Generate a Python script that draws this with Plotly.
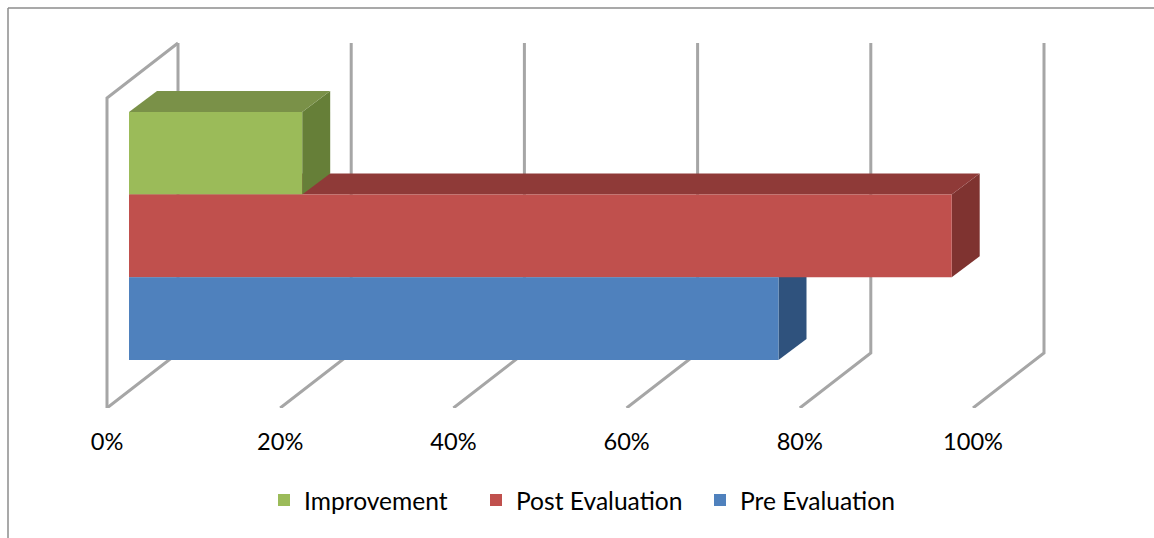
import plotly.graph_objects as go

# ---- data ----
categories = ["Pre Evaluation", "Post Evaluation", "Improvement"]
values = [75, 95, 20]
front_colors = ["#4F81BD", "#C0504D", "#9BBB59"]
top_colors = ["#3A6390", "#8F3A38", "#7A9148"]
side_colors = ["#2F527D", "#7F3330", "#667F38"]
ticks = [0, 20, 40, 60, 80, 100]

# ---- geometry (pixel scale of the chart) ----
W, H = 1154, 538
PLOT_H = 408
X0_PX = 107.0
PX_PER_PCT = 8.66
BAR_PX = 82.7
BAR_BOTTOM_PX = 360.0

x_range = [-X0_PX / PX_PER_PCT, (W - X0_PX) / PX_PER_PCT]
y_range = [-0.5 - (PLOT_H - BAR_BOTTOM_PX) / BAR_PX, -0.5 + BAR_BOTTOM_PX / BAR_PX]

dx = lambda px: px / PX_PER_PCT
dy = lambda px: px / BAR_PX

BASE = dx(22)            # bars stand 22 px in front of the wall's front corner
DEPTH_X, DEPTH_Y = dx(28), dy(21)
FLOOR_X, FLOOR_Y = dx(71), dy(55)
floor_y = y_range[0]
wall_top = floor_y + dy(310)

GRID = "#A6A6A6"
fig = go.Figure()

# walls and grid lines, on the base axes so everything else hides them
gx, gy = [], []
for t in ticks:
    gx += [t, t + FLOOR_X, t + FLOOR_X, None]
    gy += [floor_y, floor_y + FLOOR_Y, wall_top + FLOOR_Y, None]
gx += [0, 0, FLOOR_X]
gy += [floor_y, wall_top, wall_top + FLOOR_Y]
fig.add_trace(go.Scatter(x=gx, y=gy, mode="lines", showlegend=False, hoverinfo="skip",
                         line=dict(color=GRID, width=3)))

# depth faces of each bar
for i, v in enumerate(values):
    end = BASE + v
    lo, hi = i - 0.5, i + 0.5
    fig.add_trace(go.Scatter(
        x=[end, end + DEPTH_X, end + DEPTH_X, end, end],
        y=[lo, lo + DEPTH_Y, hi + DEPTH_Y, hi, lo],
        mode="lines", fill="toself", fillcolor=side_colors[i],
        line=dict(width=0), showlegend=False, hoverinfo="skip"))
    fig.add_trace(go.Scatter(
        x=[BASE, BASE + DEPTH_X, end + DEPTH_X, end, BASE],
        y=[hi, hi + DEPTH_Y, hi + DEPTH_Y, hi, hi],
        mode="lines", fill="toself", fillcolor=top_colors[i],
        line=dict(width=0), showlegend=False, hoverinfo="skip"))

# front faces on an overlaying pair of axes, drawn above the depth faces
for i in [2, 1, 0]:
    fig.add_trace(go.Bar(
        x=[values[i]], y=[i], base=[BASE], width=[1], orientation="h",
        name=categories[i], marker=dict(color=front_colors[i], line=dict(width=0)),
        xaxis="x2", yaxis="y2",
        legend={2: "legend", 1: "legend2", 0: "legend3"}[i]))

FONT = "Lato, 'Open Sans', sans-serif"
legend_base = dict(orientation="h", xanchor="left", yanchor="middle", y=-92 / PLOT_H,
                   bgcolor="rgba(0,0,0,0)", font=dict(family=FONT, size=24.6, color="#000000"),
                   itemclick=False, itemdoubleclick=False)

fig.update_layout(
    width=W, height=H, margin=dict(l=0, r=0, t=0, b=H - PLOT_H, pad=0),
    paper_bgcolor="white", plot_bgcolor="white", barmode="overlay",
    font=dict(family=FONT, size=23.6, color="#000000"),
    xaxis=dict(range=x_range, tickvals=ticks, ticktext=[f"{t}%" for t in ticks],
               showgrid=False, zeroline=False, showline=False,
               ticks="outside", ticklen=13, tickcolor="rgba(0,0,0,0)",
               tickfont=dict(family=FONT, size=23.6, color="#000000")),
    yaxis=dict(range=y_range, visible=False),
    xaxis2=dict(range=x_range, overlaying="x", visible=False, anchor="y2"),
    yaxis2=dict(range=y_range, overlaying="y", visible=False, anchor="x2"),
    legend=dict(legend_base, x=264 / W),
    legend2=dict(legend_base, x=476 / W),
    legend3=dict(legend_base, x=700 / W),
    shapes=[
        dict(type="line", xref="paper", yref="paper", x0=8 / W, x1=1, y0=(PLOT_H - 8) / PLOT_H, y1=(PLOT_H - 8) / PLOT_H,
             line=dict(color="#8C8C8C", width=1.5)),
        dict(type="line", xref="paper", yref="paper", x0=8 / W, x1=8 / W, y0=(PLOT_H - 8) / PLOT_H, y1=(PLOT_H - H) / PLOT_H,
             line=dict(color="#8C8C8C", width=1.5)),
    ],
)

fig.write_html("out.html", config={"displayModeBar": False},
               post_script="document.body.style.margin='0';")
